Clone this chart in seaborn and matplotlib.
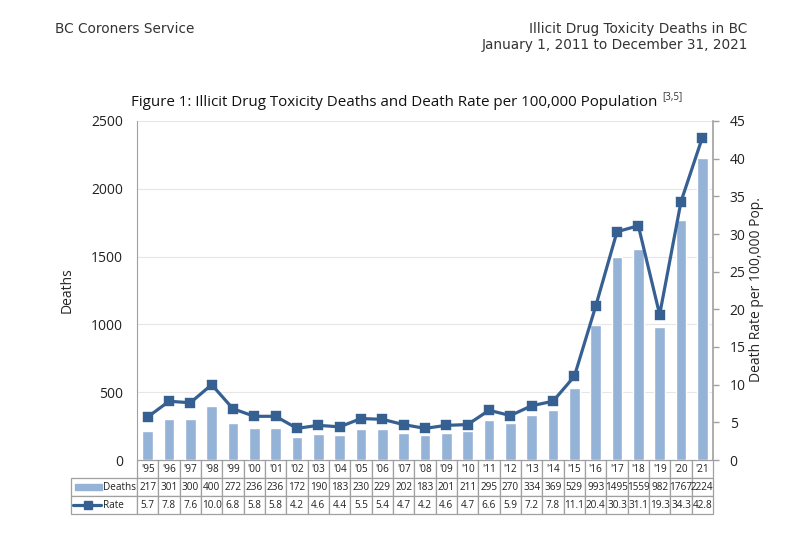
import matplotlib
matplotlib.use("Agg")
import matplotlib.pyplot as plt
import seaborn as sns
from matplotlib.patches import Rectangle
from matplotlib.lines import Line2D

# data
year_labels = ["'95", "'96", "'97", "'98", "'99", "'00", "'01", "'02", "'03", "'04",
               "'05", "'06", "'07", "'08", "'09", "'10", "'11", "'12", "'13", "'14",
               "'15", "'16", "'17", "'18", "'19", "'20", "'21"]
deaths = [217, 301, 300, 400, 272, 236, 236, 172, 190, 183, 230, 229, 202, 183,
          201, 211, 295, 270, 334, 369, 529, 993, 1495, 1559, 982, 1767, 2224]
rates = [5.7, 7.8, 7.6, 10.0, 6.8, 5.8, 5.8, 4.2, 4.6, 4.4, 5.5, 5.4, 4.7, 4.2,
         4.6, 4.7, 6.6, 5.9, 7.2, 7.8, 11.1, 20.4, 30.3, 31.1, 19.3, 34.3, 42.8]

bar_color = "#95b3d7"
line_color = "#376092"
edge_grey = "#a0a0a0"

sns.set_style("white")
plt.rcParams["font.family"] = ["Open Sans", "DejaVu Sans"]

W, H = 810, 538
fig = plt.figure(figsize=(W / 100, H / 100), dpi=100)

def fx(px):
    return px / W

def fy(py):
    return 1 - py / H

# plot area in pixels: x 137..713, y 121..460
ax = fig.add_axes([fx(137), fy(460), (713 - 137) / W, (460 - 121) / H])
sns.barplot(x=year_labels, y=deaths, ax=ax, color=bar_color, width=0.5,
            saturation=1)
ax.set_ylim(0, 2500)
ax.set_yticks(range(0, 2501, 500))
ax.yaxis.grid(True, color="#e6e6e6", linewidth=0.8)
ax.set_axisbelow(True)
ax.set_xticks([])
ax.set_xlabel("")
ax.set_ylabel("")
ax.tick_params(axis="y", length=0, pad=10, labelsize=10, labelcolor="#222222")
for s in ["top", "bottom", "right"]:
    ax.spines[s].set_visible(False)
ax.spines["left"].set_color(edge_grey)

ax2 = ax.twinx()
sns.pointplot(x=year_labels, y=rates, ax=ax2, color=line_color, markers="s",
              errorbar=None, markersize=6, linewidth=2.3)
ax2.set_ylim(0, 45)
ax2.set_yticks(range(0, 46, 5))
ax2.set_xlabel("")
ax2.set_ylabel("")
ax2.tick_params(axis="y", length=4, width=1, color=edge_grey, pad=8,
                labelsize=10, labelcolor="#222222")
for s in ["top", "bottom", "left"]:
    ax2.spines[s].set_visible(False)
ax2.spines["right"].set_color(edge_grey)
ax2.spines["right"].set_linewidth(1.2)
ax.set_xlim(-0.5, len(year_labels) - 0.5)
ax2.set_xlim(-0.5, len(year_labels) - 0.5)
ax2.set_xticks([])

# data table under the plot
lab_w = 66 / 576
cell_text = [[""] + year_labels,
             [""] + [str(d) for d in deaths],
             [""] + [f"{r:.1f}" for r in rates]]
tbl = ax.table(cellText=cell_text,
               colWidths=[lab_w] + [1 / len(year_labels)] * len(year_labels),
               cellLoc="center",
               bbox=[-lab_w, -54 / 339, 1 + lab_w, 54 / 339])
tbl.auto_set_font_size(False)
tbl.set_fontsize(7.2)
for (r, c), cell in tbl.get_celld().items():
    cell.set_edgecolor(edge_grey)
    cell.set_linewidth(0.9)
    cell.get_text().set_color("#222222")
tbl[0, 0].visible_edges = "open"

# legend keys inside the table
fig.patches.append(Rectangle((fx(75), fy(490)), fx(102) - fx(75), fy(484) - fy(490),
                             transform=fig.transFigure, color=bar_color))
fig.lines.append(Line2D([fx(73), fx(101)], [fy(505), fy(505)], transform=fig.transFigure,
                        color=line_color, linewidth=2.3))
fig.lines.append(Line2D([fx(87.5)], [fy(505)], transform=fig.transFigure,
                        color=line_color, marker="s", markersize=6))
fig.text(fx(103), fy(487.5), "Deaths", fontsize=7.2, va="center", color="#222222")
fig.text(fx(103), fy(505), "Rate", fontsize=7.2, va="center", color="#222222")

# axis titles
fig.text(fx(67), fy(290), "Deaths", rotation=90, fontsize=10, ha="center", va="center")
fig.text(fx(756), fy(290), "Death Rate per 100,000 Pop.", rotation=90, fontsize=10,
         ha="center", va="center")

# chart title with reference superscript
title = fig.text(fx(131), fy(102), "Figure 1: Illicit Drug Toxicity Deaths and Death Rate "
                 "per 100,000 Population", fontsize=10.9, va="center", color="#111111")
fig.canvas.draw()
bb = title.get_window_extent()
fig.text((bb.x1 + 5) / W, fy(97), "[3,5]", fontsize=7, va="center", color="#333333")

# page header
hdr = ["DejaVu Sans"]
fig.text(fx(55), fy(29), "BC Coroners Service", fontsize=9.8, family=hdr,
         va="center", color="#333333")
fig.text(fx(747), fy(29), "Illicit Drug Toxicity Deaths in BC", fontsize=9.8,
         family=hdr, ha="right", va="center", color="#333333")
fig.text(fx(748), fy(45), "January 1, 2011 to December 31, 2021", fontsize=9.8,
         family=hdr, ha="right", va="center", color="#333333")

fig.savefig("out.png", dpi=100)
